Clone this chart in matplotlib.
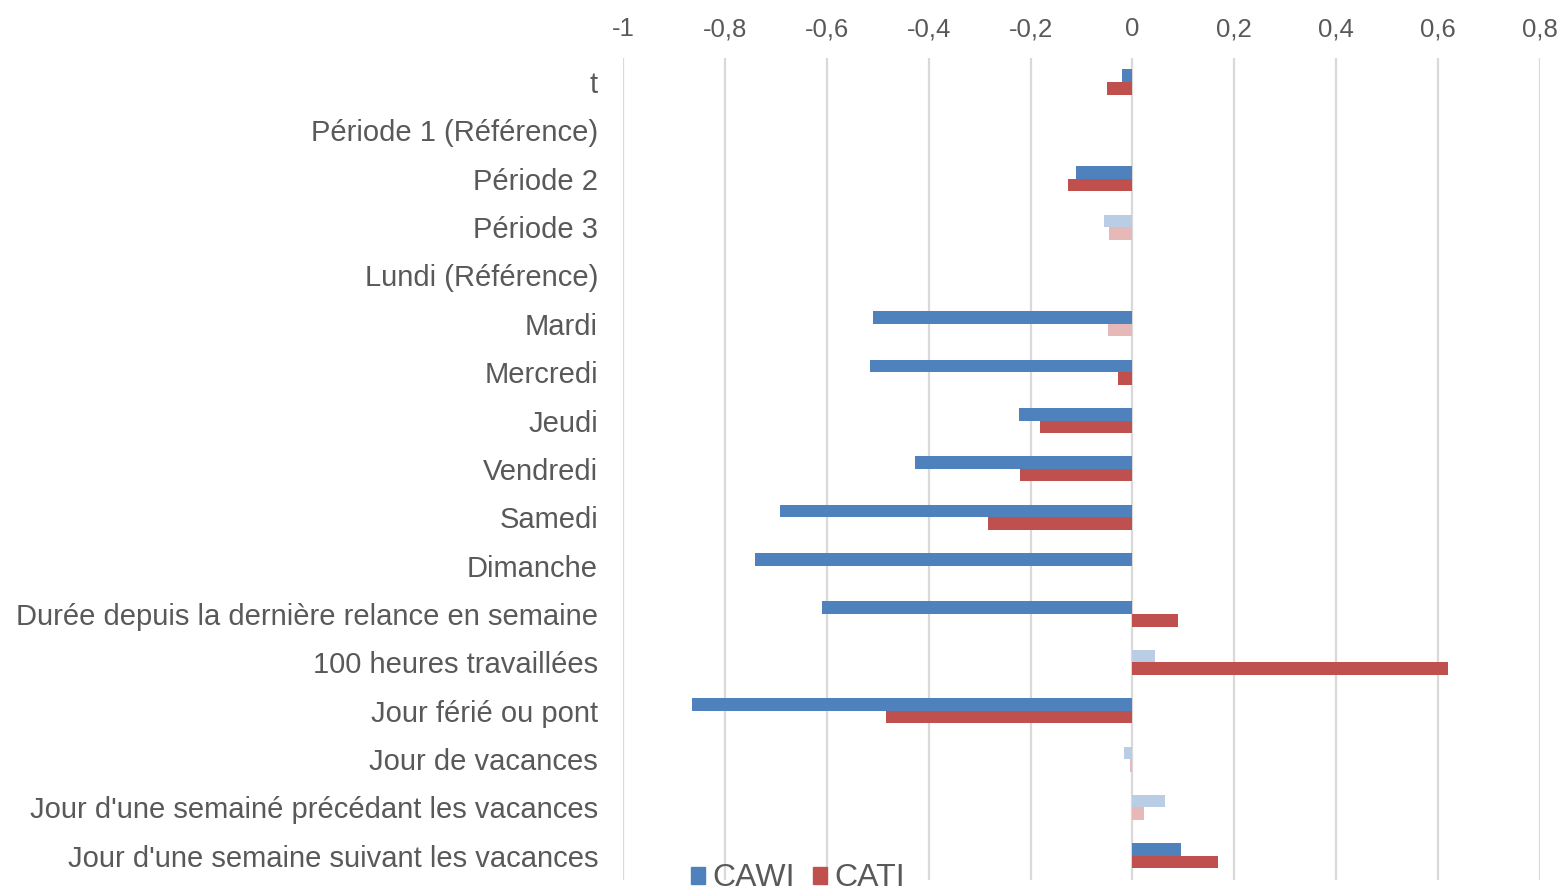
import matplotlib
matplotlib.use("Agg")
import matplotlib.pyplot as plt
from matplotlib.patches import Patch
from matplotlib.font_manager import FontProperties, findfont
import numpy as np

plt.rcParams['font.family'] = ['Liberation Sans', 'DejaVu Sans']

categories = ["t", "Période 1 (Référence)", "Période 2", "Période 3",
              "Lundi (Référence)", "Mardi", "Mercredi", "Jeudi", "Vendredi",
              "Samedi", "Dimanche", "Durée depuis la dernière relance en semaine",
              "100 heures travaillées", "Jour férié ou pont", "Jour de vacances",
              "Jour d'une semainé précédant les vacances",
              "Jour d'une semaine suivant les vacances"]
cawi = [-0.021, 0.0, -0.110, -0.055, 0.0, -0.509, -0.516, -0.222, -0.427,
        -0.692, -0.741, -0.610, 0.044, -0.864, -0.017, 0.063, 0.096]
cati = [-0.050, 0.0, -0.127, -0.047, 0.0, -0.048, -0.028, -0.182, -0.221,
        -0.283, 0.0, 0.089, 0.620, -0.484, -0.005, 0.022, 0.168]
cawi_sig = [1, 0, 1, 0, 0, 1, 1, 1, 1, 1, 1, 1, 0, 1, 0, 0, 1]
cati_sig = [1, 0, 1, 0, 0, 0, 1, 1, 1, 1, 1, 1, 1, 1, 0, 0, 1]
xticks = [-1, -0.8, -0.6, -0.4, -0.2, 0, 0.2, 0.4, 0.6, 0.8]
xticklabels = ["-1", "-0,8", "-0,6", "-0,4", "-0,2", "0", "0,2", "0,4", "0,6", "0,8"]

BLUE, BLUE_L = "#4F81BD", "#B9CDE5"
RED, RED_L = "#C0504D", "#E6B9B8"
TXT = "#595959"

fig = plt.figure(figsize=(15.6, 8.91), dpi=100)
ax = fig.add_axes([623/1560, 1-880/891, (1540-623)/1560, (880-57.8)/891])

y = np.arange(len(categories))
h = 0.26
ax.barh(y - h/2, cawi, height=h, color=[BLUE if s else BLUE_L for s in cawi_sig], zorder=3)
ax.barh(y + h/2, cati, height=h, color=[RED if s else RED_L for s in cati_sig], zorder=3)

ax.set_xlim(-1, 0.8)
ax.set_ylim(len(categories) - 0.5, -0.5)
ax.set_yticks(y)
ax.set_yticklabels(categories)
ax.set_xticks(xticks)
ax.set_xticklabels(xticklabels)
ax.xaxis.tick_top()
ax.tick_params(axis='x', length=0, pad=12, labelsize=18.5, labelcolor=TXT)
ax.tick_params(axis='y', length=0, pad=18, labelsize=21, labelcolor=TXT)
ax.grid(axis='x', color="#D9D9D9", linewidth=1.6, zorder=0)
ax.set_axisbelow(True)
for s in ax.spines.values():
    s.set_visible(False)

# legend font: narrow sans if available
narrow = FontProperties(family='Liberation Sans Narrow', size=26)
try:
    path = findfont(narrow, fallback_to_default=False)
    legprop = FontProperties(fname=path, size=26)
except Exception:
    legprop = FontProperties(family='Liberation Sans', size=23)

handles = [Patch(color=BLUE, label="CAWI"), Patch(color=RED, label="CATI")]
fig.legend(handles=handles, loc='center', bbox_to_anchor=(798/1560, 1-878.5/891),
           ncol=2, frameon=False, prop=legprop, labelcolor=TXT,
           handlelength=0.44, handleheight=0.44, handletextpad=0.22, columnspacing=0.58)

fig.savefig("out.png", dpi=100)
